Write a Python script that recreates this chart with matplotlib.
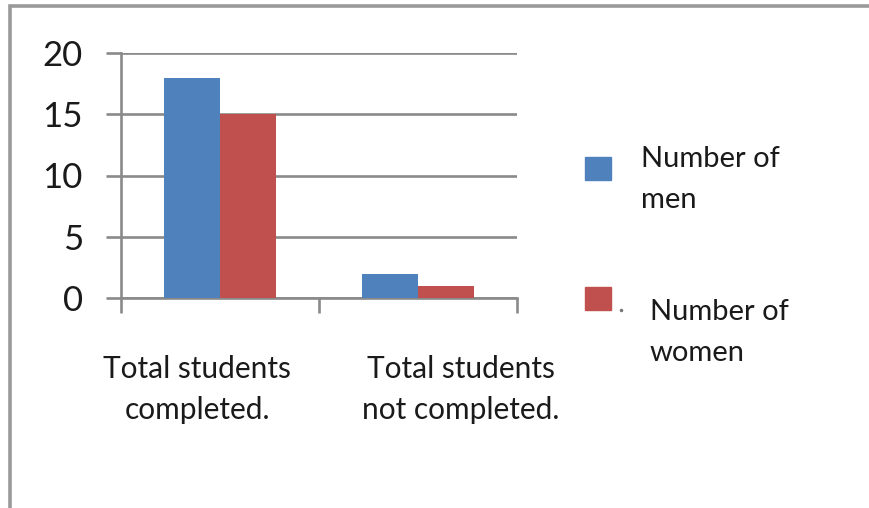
import matplotlib
matplotlib.use("Agg")
import matplotlib.pyplot as plt  # noqa: E402
from matplotlib.lines import Line2D  # noqa: E402
from matplotlib.patches import Rectangle  # noqa: E402
from matplotlib.transforms import ScaledTranslation  # noqa: E402

plt.rcParams["font.family"] = ["Lato", "DejaVu Sans"]

categories = ["Total students\ncompleted.", "Total students\nnot completed."]
series_names = ["Number of\nmen", "Number of\nwomen"]
men = [18, 2]
women = [15, 1]
y_ticks = [0, 5, 10, 15, 20]

BLUE = "#4f81bd"
RED = "#c0504d"
GRID = "#8a8a8a"
TEXT = "#1a1a1a"

W, H, DPI = 869, 508, 100
fig = plt.figure(figsize=(W / DPI, H / DPI), dpi=DPI)


def fx(px):
    return px / W


def fy(py):
    return 1 - py / H


# plot area: y axis at x=121px, x axis at y=298px, top gridline at y=53px
ax = fig.add_axes([fx(121), fy(298), fx(517) - fx(121), fy(53) - fy(298)])

bar_w = 0.285
xs = range(len(categories))
ax.bar([x - bar_w / 2 for x in xs], men, width=bar_w, color=BLUE, zorder=3)
ax.bar([x + bar_w / 2 for x in xs], women, width=bar_w, color=RED, zorder=3)

ax.set_xlim(-0.5, len(categories) - 0.5)
ax.set_ylim(0, 20)
ax.set_yticks(y_ticks)
ax.set_yticklabels([str(v) for v in y_ticks], fontsize=25, color=TEXT)
ax.grid(axis="y", color=GRID, linewidth=1.9, zorder=1)

for side in ["top", "right"]:
    ax.spines[side].set_visible(False)
for side in ["left", "bottom"]:
    ax.spines[side].set_color(GRID)
    ax.spines[side].set_linewidth(1.9)
    ax.spines[side].set_zorder(2)

ax.tick_params(axis="y", length=10.5, width=1.9, color=GRID, pad=17)

# category boundaries get the tick marks, labels sit on the centres
ax.set_xticks([x - 0.5 for x in range(len(categories) + 1)], minor=True)
ax.tick_params(axis="x", which="minor", length=10.8, width=1.9, color=GRID)
ax.set_xticks(list(xs))
ax.set_xticklabels(categories, fontsize=21.5, color=TEXT, linespacing=1.55)
ax.tick_params(axis="x", which="major", length=0, pad=41)
for lbl, dx in zip(ax.get_xticklabels(), [-23, 43]):
    lbl.set_transform(lbl.get_transform() + ScaledTranslation(dx / DPI, 0, fig.dpi_scale_trans))

# legend drawn by hand; y is the baseline of the last text line
legend_boxes = [(585, 157), (585, 287)]
legend_text = [(641, 208), (650, 361)]
for color, (bx, by), (tx, ty), name in zip([BLUE, RED], legend_boxes, legend_text, series_names):
    fig.patches.append(Rectangle((fx(bx), fy(by + 23)), fx(26), 23 / H,
                                 transform=fig.transFigure, color=color))
    fig.text(fx(tx), fy(ty), name, fontsize=21, color=TEXT, va="baseline",
             ha="left", linespacing=1.7)
fig.add_artist(Line2D([fx(621)], [fy(310)], marker="o", markersize=1.5,
                      color="#777777", transform=fig.transFigure))

# frame around the chart (cut off at right and bottom)
fig.add_artist(Line2D([fx(10), fx(10), 1.0], [0.0, fy(6), fy(6)], color="#9a9a9a",
                      linewidth=2.6, transform=fig.transFigure, solid_joinstyle="miter"))

fig.savefig("out.png", dpi=DPI)
